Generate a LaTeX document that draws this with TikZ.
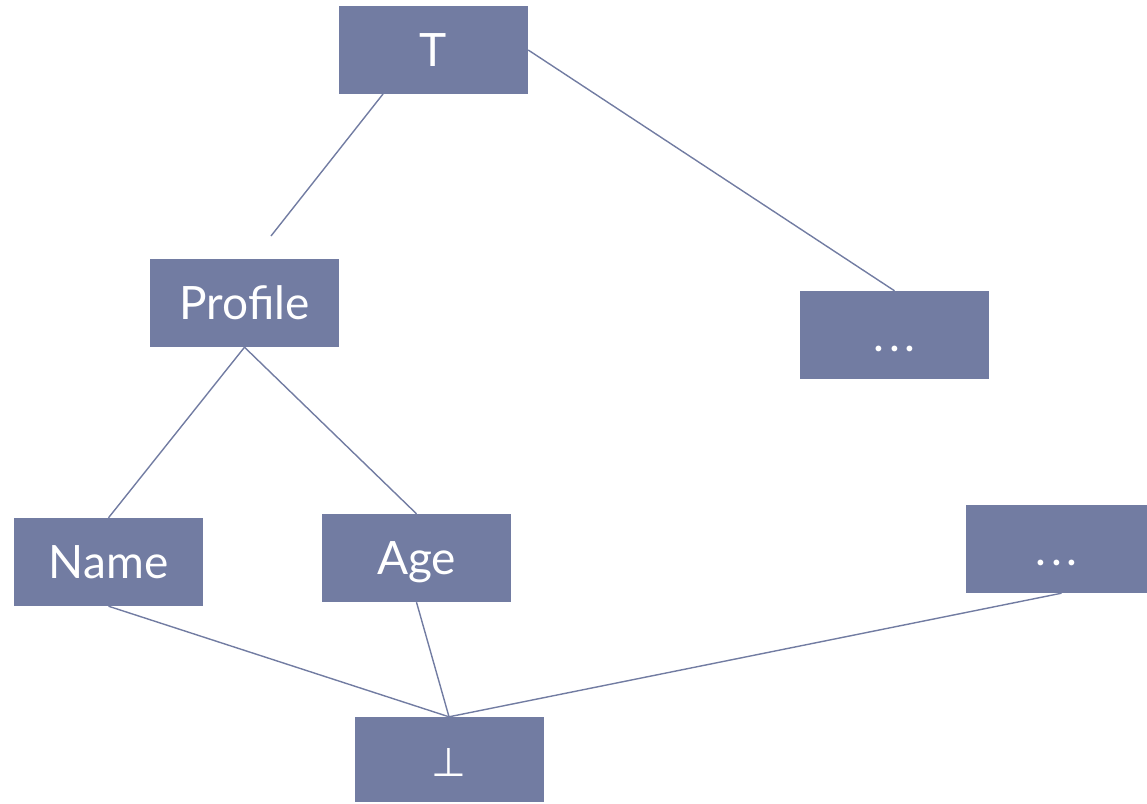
\documentclass[tikz,border=0pt]{standalone}
\usepackage{fontspec}
\setmainfont{Lato}
\newfontfamily\symfont{DejaVu Sans}
\definecolor{boxblue}{RGB}{114,124,162}
\newcommand{\sdots}{.\hspace{5pt}.\hspace{5pt}.}
\begin{document}
\begin{tikzpicture}[x=1pt,y=-1pt,
  box/.style={fill=boxblue, draw=none, minimum width=189pt, minimum height=88pt, inner sep=0pt,
    text=white, font=\fontsize{46}{50}\selectfont, text height=33pt, text depth=0pt},
  edge/.style={draw=boxblue, line width=1.4pt}]
\useasboundingbox (0,0) rectangle (1147,803);
\node[box] (T) at (433.5,50) {T};
\node[box] (P) at (244.5,303) {Profile};
\node[box] (D1) at (894.5,335) {\sdots};
\node[box] (N) at (108.5,562) {Name};
\node[box] (A) at (416.5,558) {Age};
\node[box, minimum width=181pt] (D2) at (1056.5,549) {\sdots};
\node[box, minimum height=85pt] (B) at (449,759.5) {\symfont\fontsize{40}{44}\selectfont ⊥};
\coordinate (tp1) at (383,94);
\coordinate (tp2) at (271,236);
\draw[edge] (tp1) -- (tp2);
\draw[edge] (T.east) -- (D1.north);
\draw[edge] (P.south) -- (N.north);
\draw[edge] (P.south) -- (A.north);
\draw[edge] (N.south) -- (B.north);
\draw[edge] (A.south) -- (B.north);
\draw[edge] ([xshift=5pt]D2.south) -- (B.north);
\end{tikzpicture}
\end{document}
